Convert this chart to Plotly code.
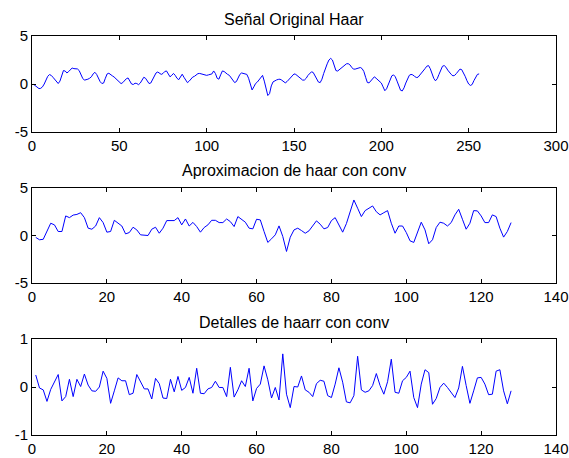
import plotly.graph_objects as go

original = [
    -0.05, -0.2, -0.4, -0.48, -0.45, -0.3, 0.0, 0.4, 0.8, 0.98,
    0.9, 0.7, 0.45, 0.2, 0.05, 0.3, 0.9, 1.4, 1.35, 1.15,
    1.3, 1.55, 1.67, 1.6, 1.55, 1.57, 1.4, 1.0, 0.6, 0.4,
    0.42, 0.5, 0.6, 0.75, 1.05, 1.22, 1.0, 0.6, 0.25, 0.05,
    0.1, 0.6, 1.05, 1.12, 0.95, 0.85, 0.73, 0.55, 0.35, 0.12,
    0.04, 0.15, 0.35, 0.55, 0.63, 0.35, 0.0, -0.05, 0.08, 0.05,
    -0.07, 0.1, 0.4, 0.7, 0.6, 0.3, 0.05, 0.1, 0.45, 0.85,
    1.15, 1.25, 1.1, 1.0, 1.1, 1.3, 1.36, 1.1, 0.75, 0.9,
    1.1, 0.9, 0.6, 0.45, 0.8, 1.02, 0.7, 0.35, 0.14, 0.3,
    0.55, 0.72, 0.8, 0.95, 1.08, 1.1, 1.05, 0.95, 0.92, 0.9,
    0.95, 1.0, 1.05, 1.36, 1.1, 0.6, 0.5, 0.95, 1.36, 1.3,
    1.1, 1.0, 0.9, 0.6, 0.3, 0.15, 0.25, 0.6, 1.0, 1.15,
    1.12, 1.05, 1.0, 0.6, -0.1, -0.62, -0.3, 0.05, 0.2, 0.4,
    0.7, 0.9, 0.3, -0.6, -1.2, -1.0, -0.2, 0.22, 0.35, 0.42,
    0.48, 0.5, 0.4, 0.22, 0.12, 0.25, 0.45, 0.7, 0.95, 1.05,
    1.0, 0.85, 0.65, 0.5, 0.4, 0.42, 0.6, 0.9, 1.15, 1.27,
    1.2, 0.9, 0.5, 0.2, 0.15, 0.5, 1.1, 1.7, 2.1, 2.5,
    2.67, 2.5, 1.9, 1.4, 1.35, 1.5, 1.7, 1.85, 2.0, 2.1,
    2.12, 2.0, 1.75, 1.55, 1.55, 1.6, 1.7, 1.72, 1.6, 1.3,
    0.7, 0.15, 0.12, 0.35, 0.6, 0.75, 0.6, 0.4, 0.22, 0.1,
    -0.3, -0.7, -0.5, 0.0, 0.5, 0.85, 0.95, 0.75, 0.3, -0.2,
    -0.65, -0.72, -0.4, 0.1, 0.6, 0.9, 1.0, 0.95, 0.8, 0.68,
    0.7, 0.9, 1.15, 1.35, 1.6, 1.85, 1.92, 1.6, 1.1, 0.6,
    0.33, 0.55, 1.0, 1.5, 1.85, 1.92, 1.75, 1.45, 1.2, 1.0,
    0.85, 0.9, 1.1, 1.4, 1.55, 1.5, 1.2, 0.8, 0.35, 0.0,
    -0.15, -0.05, 0.35, 0.75, 1.0, 1.05,
]

approximation = [
    -0.2, -0.45, -0.4, 0.45, 1.29, 1.12, 0.42, 0.42, 2.06, 1.88,
    2.15, 2.22, 2.4, 1.88, 0.77, 0.66, 1.0, 1.88, 1.36, 0.35,
    0.42, 1.6, 1.29, 1.0, 0.17, 0.31, 0.87, 0.59, 0.07, 0.07,
    0.0, 0.66, 0.87, 0.24, 0.77, 1.57, 1.57, 1.57, 1.88, 1.12,
    1.74, 1.0, 1.38, 0.94, 0.35, 0.84, 1.12, 1.6, 1.6, 1.36,
    1.36, 1.74, 1.46, 0.94, 1.99, 1.71, 1.4, 0.77, 0.7, 1.71,
    1.64, 0.42, -0.73, -0.35, 0.07, 1.01, -0.1, -1.68, -0.18, 0.59,
    0.77, 0.52, 0.24, 0.49, 1.05, 1.54, 1.19, 0.7, 0.84, 1.57,
    1.88, 1.12, 0.35, 1.25, 2.55, 3.74, 2.87, 1.99, 2.62, 2.87,
    3.11, 2.5, 2.17, 2.4, 2.62, 1.29, 0.24, 1.0, 1.0, 0.31,
    -0.56, -0.73, 0.42, 1.4, 0.59, -0.87, -0.45, 0.84, 1.4, 1.29,
    1.0, 1.36, 2.17, 2.76, 1.71, 0.66, 1.29, 2.62, 2.59, 2.06,
    1.36, 1.36, 2.17, 1.99, 0.77, -0.17, 0.42, 1.36,
]

details = [
    0.25, -0.02, -0.06, -0.30, -0.05, 0.09, 0.26, -0.29, -0.2, 0.16,
    -0.2, 0.16, 0.01, 0.27, 0.04, -0.08, -0.09, 0.0, 0.33, 0.18,
    -0.34, -0.08, 0.19, 0.13, 0.13, -0.16, -0.13, 0.26, 0.12, -0.04,
    -0.04, -0.25, 0.18, 0.07, -0.23, -0.24, 0.16, -0.1, 0.22, -0.07,
    -0.01, 0.2, -0.13, 0.39, -0.13, -0.14, -0.04, -0.01, 0.12, -0.01,
    -0.01, -0.2, 0.41, -0.21, -0.06, 0.13, 0.01, 0.39, -0.29, -0.03,
    0.06, 0.44, 0.15, -0.23, -0.01, -0.27, 0.69, -0.15, -0.43, 0.01,
    0.0, 0.23, -0.06, -0.11, -0.2, 0.07, 0.14, 0.12, -0.18, -0.22,
    0.06, 0.4, 0.1, -0.31, -0.33, -0.18, 0.64, -0.06, -0.11, -0.08,
    0.03, 0.28, 0.03, -0.15, 0.11, 0.58, -0.11, -0.13, 0.13, 0.2,
    0.33, -0.22, -0.43, 0.06, 0.36, 0.3, -0.36, -0.24, -0.01, 0.08,
    -0.01, -0.11, -0.22, -0.02, 0.43, 0.03, -0.34, -0.08, 0.19, 0.2,
    0.06, -0.16, -0.15, 0.33, 0.36, -0.08, -0.35, -0.08,
]

titles = ["Señal Original Haar", "Aproximacion de haar con conv", "Detalles de haarr con conv"]
x1_ticks = [0, 50, 100, 150, 200, 250, 300]
x23_ticks = [0, 20, 40, 60, 80, 100, 120, 140]
y12_ticks = [-5, 0, 5]
y12_labels = ["-5", "0", "5"]
y3_ticks = [-1, 0, 1]
y3_labels = ["-1", "0", "1"]

W, H = 569, 458
FONT = "Liberation Sans, Arial, sans-serif"

fig = go.Figure()
series = [original, approximation, details]
for n, s in enumerate(series):
    suffix = "" if n == 0 else str(n + 1)
    fig.add_trace(go.Scatter(
        x=list(range(1, len(s) + 1)), y=s, mode="lines",
        line=dict(color="rgb(0,0,255)", width=1),
        xaxis="x" + suffix, yaxis="y" + suffix, showlegend=False,
        hoverinfo="skip",
    ))

xdom = [32 / W, 556 / W]
boxes = [(36, 132), (188, 283), (339, 435)]
title_y = [19, 170, 322]

def axstyle():
    return dict(showline=True, linecolor="black", linewidth=1, mirror="ticks",
                ticks="inside", ticklen=4, tickcolor="black", showgrid=False,
                zeroline=False, automargin=False,
                tickfont=dict(family=FONT, size=15, color="black"))

layout = dict(width=W, height=H, margin=dict(l=0, r=0, t=0, b=0, pad=0, autoexpand=False),
              paper_bgcolor="white", plot_bgcolor="white", showlegend=False)

xranges = [[0, 300], [0, 140], [0, 140]]
xticks = [x1_ticks, x23_ticks, x23_ticks]
yranges = [[-5, 5], [-5, 5], [-1, 1]]
yticks = [(y12_ticks, y12_labels), (y12_ticks, y12_labels), (y3_ticks, y3_labels)]

annotations = []
for n in range(3):
    suffix = "" if n == 0 else str(n + 1)
    top, bot = boxes[n]
    xa = axstyle()
    xa.update(domain=xdom, range=xranges[n], tickmode="array",
              tickvals=xticks[n], ticktext=[str(t) for t in xticks[n]],
              anchor="y" + suffix)
    ya = axstyle()
    ya.update(domain=[1 - bot / H, 1 - top / H], range=yranges[n],
              tickmode="array", tickvals=yticks[n][0], ticktext=yticks[n][1],
              anchor="x" + suffix)
    layout["xaxis" + suffix] = xa
    layout["yaxis" + suffix] = ya
    annotations.append(dict(text=titles[n], xref="paper", yref="paper",
                            x=(xdom[0] + xdom[1]) / 2, y=1 - title_y[n] / H,
                            xanchor="center", yanchor="middle", showarrow=False,
                            font=dict(family=FONT, size=16, color="black")))
layout["annotations"] = annotations

fig.update_layout(**layout)
fig.write_html(
    "out.html",
    config={"displayModeBar": False, "staticPlot": True},
    post_script="document.body.style.margin='0px';document.body.style.overflow='hidden';",
)
